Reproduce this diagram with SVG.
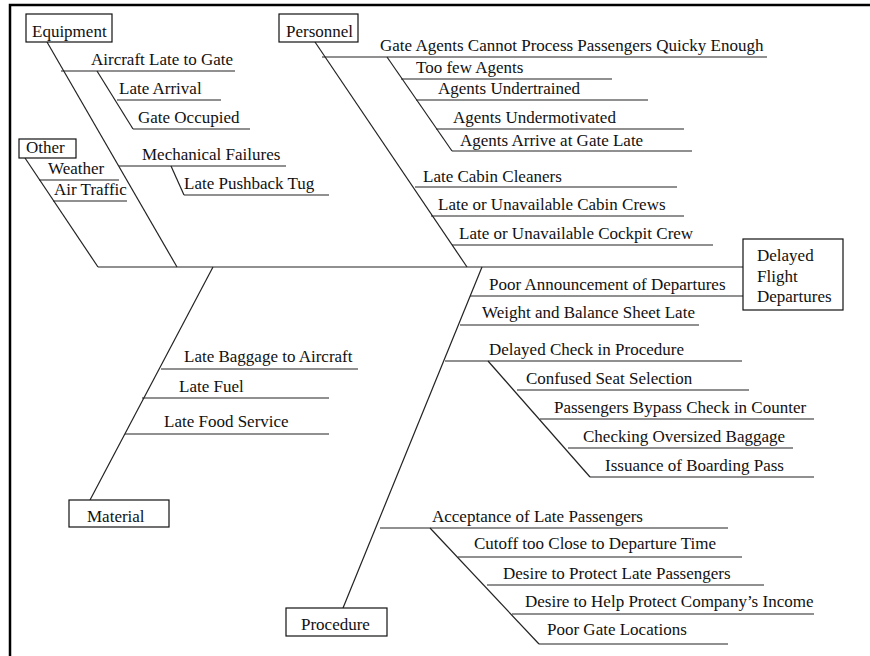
<svg xmlns="http://www.w3.org/2000/svg" width="870" height="656" viewBox="0 0 870 656" font-family="'Liberation Serif', 'Times New Roman', Tinos, 'DejaVu Serif', serif">
<style>
text{font-size:17px;fill:#111}
.box{fill:#fff;stroke:#111;stroke-width:1.2}
.ln{stroke:#222;stroke-width:1.2;fill:none}
.frame{stroke:#000;stroke-width:2.5;fill:none}
</style>
<rect width="870" height="656" fill="#fff"/>
<path class="frame" d="M10,656 V5 H870"/>
<g id="connectors">
<line class="ln" x1="98" y1="267" x2="743" y2="267"/>
<line class="ln" x1="47" y1="42" x2="177" y2="267"/>
<line class="ln" x1="61" y1="71" x2="235" y2="71"/>
<line class="ln" x1="97" y1="71" x2="133" y2="129"/>
<line class="ln" x1="117" y1="100" x2="221" y2="100"/>
<line class="ln" x1="133" y1="129" x2="250" y2="129"/>
<line class="ln" x1="119" y1="166" x2="286" y2="166"/>
<line class="ln" x1="171" y1="166" x2="184" y2="195"/>
<line class="ln" x1="184" y1="195" x2="329" y2="195"/>
<line class="ln" x1="25" y1="158" x2="98" y2="267"/>
<line class="ln" x1="39" y1="180" x2="119" y2="180"/>
<line class="ln" x1="53" y1="201" x2="127" y2="201"/>
<line class="ln" x1="315" y1="42" x2="467" y2="267"/>
<line class="ln" x1="322" y1="57" x2="767" y2="57"/>
<line class="ln" x1="387" y1="57" x2="452" y2="151"/>
<line class="ln" x1="401" y1="79" x2="612" y2="79"/>
<line class="ln" x1="416" y1="100" x2="648" y2="100"/>
<line class="ln" x1="436" y1="129" x2="684" y2="129"/>
<line class="ln" x1="452" y1="151" x2="692" y2="151"/>
<line class="ln" x1="415" y1="187" x2="677" y2="187"/>
<line class="ln" x1="431" y1="216" x2="684" y2="216"/>
<line class="ln" x1="452" y1="245" x2="713" y2="245"/>
<line class="ln" x1="213" y1="267" x2="90" y2="500"/>
<line class="ln" x1="161" y1="369" x2="358" y2="369"/>
<line class="ln" x1="142" y1="398" x2="329" y2="398"/>
<line class="ln" x1="125" y1="434" x2="329" y2="434"/>
<line class="ln" x1="482" y1="267" x2="343" y2="608"/>
<line class="ln" x1="470" y1="296" x2="743" y2="296"/>
<line class="ln" x1="460" y1="325" x2="699" y2="325"/>
<line class="ln" x1="445" y1="361" x2="742" y2="361"/>
<line class="ln" x1="488" y1="361" x2="590" y2="477"/>
<line class="ln" x1="517" y1="390" x2="749" y2="390"/>
<line class="ln" x1="540" y1="419" x2="814" y2="419"/>
<line class="ln" x1="568" y1="448" x2="793" y2="448"/>
<line class="ln" x1="590" y1="477" x2="814" y2="477"/>
<line class="ln" x1="380" y1="528" x2="728" y2="528"/>
<line class="ln" x1="430" y1="528" x2="539" y2="644"/>
<line class="ln" x1="458" y1="557" x2="742" y2="557"/>
<line class="ln" x1="487" y1="585" x2="764" y2="585"/>
<line class="ln" x1="512" y1="614" x2="814" y2="614"/>
<line class="ln" x1="539" y1="644" x2="728" y2="644"/>
</g>
<g id="equipment">
<rect class="box" x="26" y="14" width="86" height="28"/>
<text x="32" y="37">Equipment</text>
</g>
<g id="personnel">
<rect class="box" x="279" y="14" width="79" height="28"/>
<text x="286" y="37">Personnel</text>
</g>
<g id="other">
<rect class="box" x="19" y="139" width="57" height="19"/>
<text x="26" y="153">Other</text>
</g>
<g id="material">
<rect class="box" x="69" y="500" width="100" height="27"/>
<text x="87" y="522">Material</text>
</g>
<g id="procedure">
<rect class="box" x="286" y="608" width="101" height="28"/>
<text x="301" y="630">Procedure</text>
</g>
<g id="effect">
<rect class="box" x="743" y="239" width="100" height="71"/>
<text x="757" y="261">Delayed</text>
<text x="757" y="282">Flight</text>
<text x="757" y="302">Departures</text>
</g>
<g id="causes">
<text x="91" y="65">Aircraft Late to Gate</text>
<text x="119" y="94">Late Arrival</text>
<text x="138" y="123">Gate Occupied</text>
<text x="142" y="160">Mechanical Failures</text>
<text x="184" y="189">Late Pushback Tug</text>
<text x="48" y="174">Weather</text>
<text x="54" y="195">Air Traffic</text>
<text x="380" y="51">Gate Agents Cannot Process Passengers Quicky Enough</text>
<text x="416" y="73">Too few Agents</text>
<text x="438" y="94">Agents Undertrained</text>
<text x="453" y="123">Agents Undermotivated</text>
<text x="460" y="146">Agents Arrive at Gate Late</text>
<text x="423" y="182">Late Cabin Cleaners</text>
<text x="438" y="210">Late or Unavailable Cabin Crews</text>
<text x="459" y="239">Late or Unavailable Cockpit Crew</text>
<text x="184" y="362">Late Baggage to Aircraft</text>
<text x="179" y="392">Late Fuel</text>
<text x="164" y="427">Late Food Service</text>
<text x="489" y="290">Poor Announcement of Departures</text>
<text x="482" y="318">Weight and Balance Sheet Late</text>
<text x="489" y="355">Delayed Check in Procedure</text>
<text x="526" y="384">Confused Seat Selection</text>
<text x="554" y="413">Passengers Bypass Check in Counter</text>
<text x="583" y="442">Checking Oversized Baggage</text>
<text x="605" y="471">Issuance of Boarding Pass</text>
<text x="432" y="522">Acceptance of Late Passengers</text>
<text x="474" y="549">Cutoff too Close to Departure Time</text>
<text x="503" y="579">Desire to Protect Late Passengers</text>
<text x="525" y="607">Desire to Help Protect Company’s Income</text>
<text x="547" y="635">Poor Gate Locations</text>
</g>
</svg>
